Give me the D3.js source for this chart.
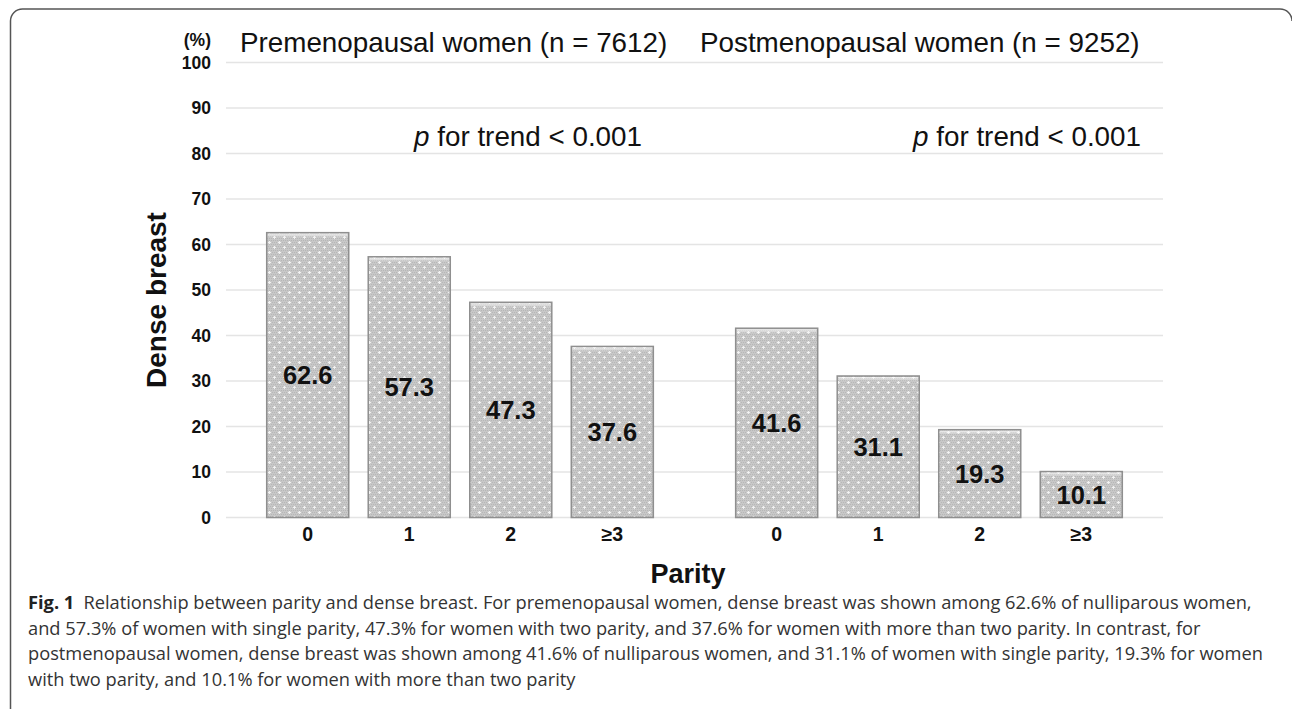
<!DOCTYPE html>
<html>
<head>
    <meta charset="UTF-8">
    <style>
        body { margin: 0; background: #fff; }
        svg { display: block; }
        .axis text {
            font-family: Arial, "Liberation Sans", sans-serif;
            font-weight: bold;
            fill: #111;
        }
        .caption { font-family: "Open Sans", sans-serif; fill: #333; }
    </style>
</head>
<body>
    <script src="https://cdn.jsdelivr.net/npm/d3@7/dist/d3.min.js"></script>
    <script>
        var groups = ["pre", "post"];
        var groupTitles = ["Premenopausal women (n = 7612)", "Postmenopausal women (n = 9252)"];
        var trendTexts = ["for trend < 0.001", "for trend < 0.001"];
        var parity = ["0", "1", "2", "≥3"];
        var preValues = [62.6, 57.3, 47.3, 37.6];
        var postValues = [41.6, 31.1, 19.3, 10.1];
        var yTicks = [0, 10, 20, 30, 40, 50, 60, 70, 80, 90, 100];
        var captionLines = [
            "Relationship between parity and dense breast. For premenopausal women, dense breast was shown among 62.6% of nulliparous women,",
            "and 57.3% of women with single parity, 47.3% for women with two parity, and 37.6% for women with more than two parity. In contrast, for",
            "postmenopausal women, dense breast was shown among 41.6% of nulliparous women, and 31.1% of women with single parity, 19.3% for women",
            "with two parity, and 10.1% for women with more than two parity"
        ];
        var values = { pre: preValues, post: postValues };

        var w = 1292;
        var h = 709;
        var plotLeft = 226, plotRight = 1163, plotTop = 62.5, plotBottom = 517.5;

        var svg = d3.select("body")
            .append("svg")
            .attr("width", w)
            .attr("height", h);

        // bar texture
        var defs = svg.append("defs");
        var pat = defs.append("pattern")
            .attr("id", "dots")
            .attr("patternUnits", "userSpaceOnUse")
            .attr("width", 10)
            .attr("height", 10);
        pat.append("rect").attr("width", 10).attr("height", 10).attr("fill", "#c8c8c8");
        for (var i = 0; i < 10; i += 2) {
            for (var j = 0; j < 10; j += 2) {
                pat.append("rect").attr("x", i + ((j / 2) % 2)).attr("y", j)
                    .attr("width", 1).attr("height", 1).attr("fill", "#b6b6b6");
            }
        }
        [[2, 2], [7, 7]].forEach(function (p) {
            pat.append("rect").attr("x", p[0] - 1).attr("y", p[1]).attr("width", 3).attr("height", 1).attr("fill", "#f2f2f2");
            pat.append("rect").attr("x", p[0]).attr("y", p[1] - 1).attr("width", 1).attr("height", 3).attr("fill", "#f2f2f2");
        });
        var bevel = defs.append("linearGradient").attr("id", "bevel").attr("x1", 0).attr("x2", 0).attr("y1", 0).attr("y2", 1);
        bevel.append("stop").attr("offset", "0%").attr("stop-color", "#fff").attr("stop-opacity", 0.7);
        bevel.append("stop").attr("offset", "100%").attr("stop-color", "#fff").attr("stop-opacity", 0);

        // frame
        svg.append("path")
            .attr("d", "M10.5,709 L10.5,21 A12,12 0 0 1 22.5,9 L1280,9 A12,12 0 0 1 1292,21")
            .attr("fill", "none")
            .attr("stroke", "#555")
            .attr("stroke-width", 1.5);

        var yScale = d3.scaleLinear().domain([0, 100]).range([plotBottom, plotTop]);
        var groupScale = d3.scaleBand()
            .domain(groups)
            .range([plotLeft, plotRight])
            .paddingInner(0.134)
            .paddingOuter(0.066);
        var xScale = d3.scaleBand()
            .domain(parity)
            .range([0, groupScale.bandwidth()])
            .paddingInner(0.192)
            .paddingOuter(0.096);

        // gridlines
        svg.append("g")
            .selectAll("line")
            .data(yTicks)
            .enter()
            .append("line")
            .attr("x1", plotLeft).attr("x2", plotRight)
            .attr("y1", d => yScale(d)).attr("y2", d => yScale(d))
            .attr("stroke", "#e4e4e4")
            .attr("stroke-width", 1.5);

        var yAxis = d3.axisLeft(yScale).tickValues(yTicks).tickSize(0).tickPadding(15);
        var yg = svg.append("g")
            .attr("class", "axis")
            .attr("transform", `translate(${plotLeft},0)`)
            .call(yAxis);
        yg.select(".domain").remove();
        yg.selectAll("text").style("font-size", "17.5px");

        svg.append("text")
            .attr("x", 211).attr("y", 46)
            .attr("text-anchor", "end")
            .style("font-family", "Arial, 'Liberation Sans', sans-serif")
            .style("font-weight", "bold")
            .style("font-size", "17.5px")
            .style("fill", "#111")
            .text("(%)");

        groups.forEach(function (g, gi) {
            var gx = groupScale(g);
            var grp = svg.append("g").attr("transform", `translate(${gx},0)`);
            var bars = grp.selectAll("g.bar")
                .data(values[g])
                .enter()
                .append("g");
            bars.append("rect")
                .attr("x", (d, i) => xScale(parity[i]))
                .attr("y", d => yScale(d))
                .attr("width", xScale.bandwidth())
                .attr("height", d => plotBottom - yScale(d))
                .attr("fill", "url(#dots)")
                .attr("stroke", "#8f8f8f")
                .attr("stroke-width", 1.5);
            bars.append("rect")
                .attr("x", (d, i) => xScale(parity[i]) + 1)
                .attr("y", d => yScale(d) + 1)
                .attr("width", xScale.bandwidth() - 2)
                .attr("height", 4)
                .attr("fill", "url(#bevel)");
            bars.append("text")
                .attr("x", (d, i) => xScale(parity[i]) + xScale.bandwidth() / 2)
                .attr("y", d => (yScale(d) + plotBottom) / 2)
                .attr("dy", "0.36em")
                .attr("text-anchor", "middle")
                .style("font-family", "Arial, 'Liberation Sans', sans-serif")
                .style("font-weight", "bold")
                .style("font-size", "25.5px")
                .style("fill", "#111")
                .text(d => d.toFixed(1));

            var xg = svg.append("g")
                .attr("class", "axis")
                .attr("transform", `translate(${gx},${plotBottom})`)
                .call(d3.axisBottom(xScale).tickSize(0).tickPadding(10));
            xg.select(".domain").remove();
            xg.selectAll("text").style("font-size", "19.5px");

            var hx = gi === 0 ? 240 : 700;
            svg.append("text")
                .attr("x", hx).attr("y", 52)
                .style("font-family", "Arial, 'Liberation Sans', sans-serif")
                .style("font-size", "27.8px")
                .style("fill", "#111")
                .text(groupTitles[gi]);

            var tx = gi === 0 ? 642 : 1141;
            var t = svg.append("text")
                .attr("x", tx).attr("y", 146)
                .attr("text-anchor", "end")
                .style("font-family", "Arial, 'Liberation Sans', sans-serif")
                .style("font-size", "27.8px")
                .style("fill", "#111");
            t.append("tspan").style("font-style", "italic").text("p");
            t.append("tspan").text(" " + trendTexts[gi]);
        });

        svg.append("text")
            .attr("transform", `translate(166,${(plotTop + plotBottom) / 2 + 10}) rotate(-90)`)
            .attr("text-anchor", "middle")
            .style("font-family", "Arial, 'Liberation Sans', sans-serif")
            .style("font-weight", "bold")
            .style("font-size", "28px")
            .style("fill", "#111")
            .text("Dense breast");

        svg.append("text")
            .attr("x", 688).attr("y", 583)
            .attr("text-anchor", "middle")
            .style("font-family", "Arial, 'Liberation Sans', sans-serif")
            .style("font-weight", "bold")
            .style("font-size", "27px")
            .style("fill", "#111")
            .text("Parity");

        // caption
        var cap = svg.append("g").attr("class", "caption");
        var baseY = 609, lineH = 25.5;
        captionLines.forEach(function (line, i) {
            var t = cap.append("text")
                .attr("x", 28)
                .attr("y", baseY + i * lineH)
                .style("font-size", "16px");
            if (i === 0) {
                t.append("tspan").style("font-weight", "bold").style("fill", "#222").text("Fig. 1");
                t.append("tspan").text("\u2002" + line);
            } else {
                t.text(line);
            }
        });
        // fit caption width to the figure frame
        var first = cap.select("text").node();
        var target = 1224;
        var size = 16 * target / first.getComputedTextLength();
        cap.selectAll("text").style("font-size", size + "px");
    </script>
</body>
</html>
